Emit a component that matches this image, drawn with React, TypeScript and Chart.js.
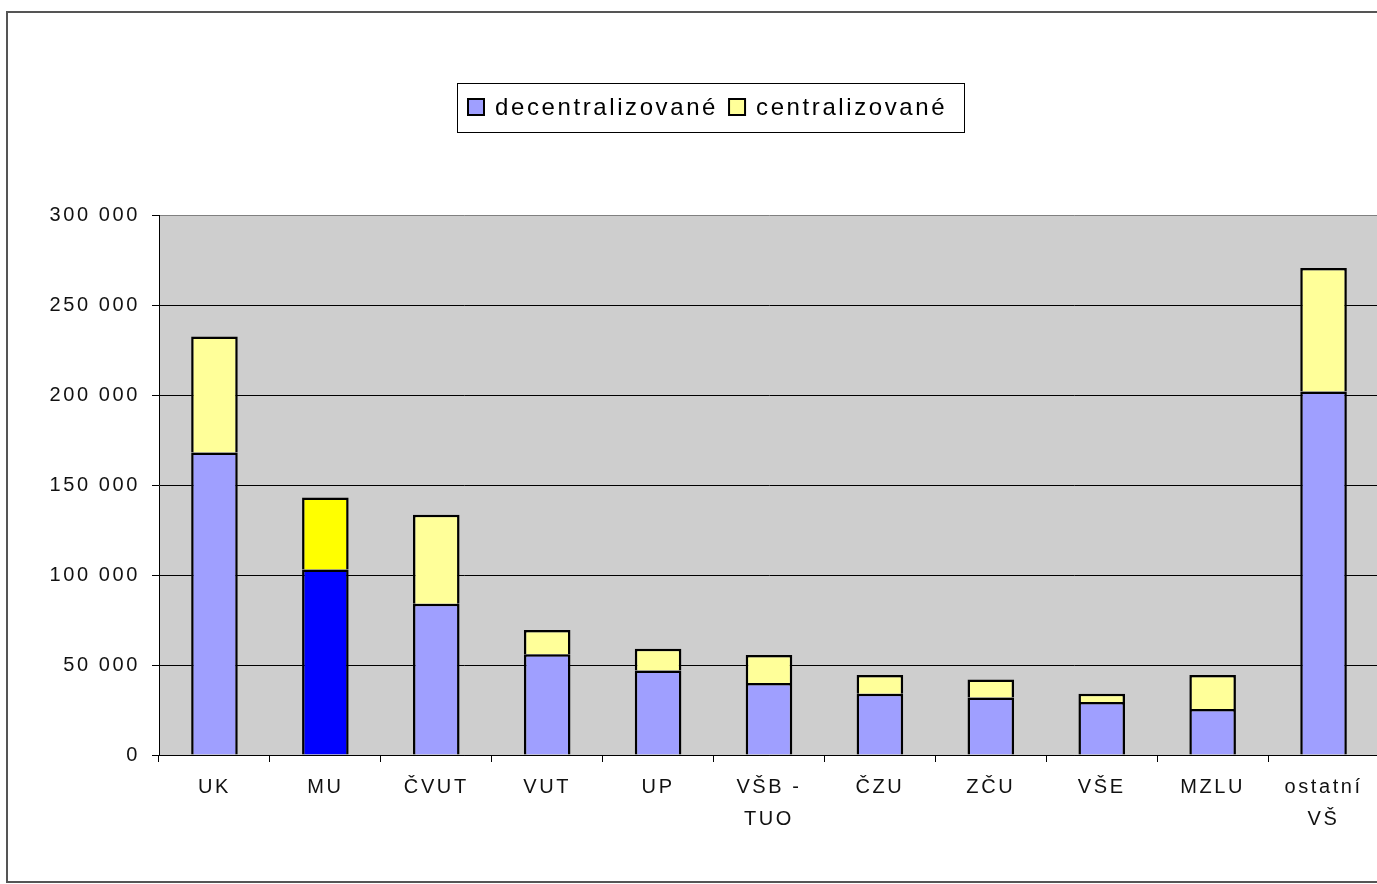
import React, { useEffect, useRef } from "react";
import { Chart, registerables } from "chart.js";

Chart.register(...registerables);

const categories: string[][] = [
  ["UK"], ["MU"], ["ČVUT"], ["VUT"], ["UP"], ["VŠB -", "TUO"],
  ["ČZU"], ["ZČU"], ["VŠE"], ["MZLU"], ["ostatní", "VŠ"],
];
const decentralizovane = [168000, 103000, 84000, 56000, 47000, 40000, 34000, 32000, 29500, 25500, 202000];
const centralizovane = [64500, 40000, 49500, 13500, 12000, 15500, 10500, 10000, 4500, 19000, 68500];
const seriesLabels = ["decentralizované", "centralizované"];
const highlightCategory = "MU";
const yMin = 0;
const yMax = 300000;
const yStep = 50000;

const FONT = "'Liberation Sans', Arial, sans-serif";
const decColor = "#9f9fff";
const centColor = "#ffff99";
const decHighlight = "#0000ff";
const centHighlight = "#ffff00";

const fmt = (v: number) => String(v).replace(/\B(?=(\d{3})+(?!\d))/g, " ");

const framePlugin = {
  id: "frame",
  beforeDraw(chart: any) {
    const { ctx, chartArea } = chart;
    ctx.save();
    ctx.fillStyle = "#ffffff";
    ctx.fillRect(0, 0, chart.width, chart.height);
    ctx.strokeStyle = "#555555";
    ctx.lineWidth = 2;
    ctx.strokeRect(7, 12, chart.width + 20, 870);
    ctx.fillStyle = "#cecece";
    ctx.fillRect(chartArea.left, chartArea.top, chartArea.right - chartArea.left, chartArea.bottom - chartArea.top);
    ctx.restore();
    (ctx as any).letterSpacing = "2.6px";
  },
  afterDraw(chart: any) {
    const ctx = chart.ctx;
    ctx.save();
    (ctx as any).letterSpacing = "2.6px";
    ctx.strokeStyle = "#000";
    ctx.lineWidth = 1;
    ctx.strokeRect(457.5, 83.5, 507, 49);
    ctx.font = `24px ${FONT}`;
    ctx.textBaseline = "alphabetic";
    ctx.textAlign = "left";
    const colors = [decColor, centColor];
    let x = 468;
    chart.data.datasets.forEach((ds: any, i: number) => {
      ctx.fillStyle = colors[i];
      ctx.fillRect(x, 99, 16, 16);
      ctx.lineWidth = 2;
      ctx.strokeStyle = "#000";
      ctx.strokeRect(x, 99, 16, 16);
      ctx.fillStyle = "#000";
      ctx.fillText(ds.label, x + 27, 114.5);
      x = x + 27 + ctx.measureText(ds.label).width + 11;
    });
    ctx.restore();
    (ctx as any).letterSpacing = "0px";
  },
};

export default function App() {
  const ref = useRef<HTMLCanvasElement>(null);
  useEffect(() => {
    if (!ref.current) return;
    const hiIdx = categories.findIndex((c) => c.join(" ") === highlightCategory);
    const chart = new Chart(ref.current, {
      type: "bar",
      data: {
        labels: categories,
        datasets: [
          {
            label: seriesLabels[0],
            data: decentralizovane,
            backgroundColor: (c: any) => (c.dataIndex === hiIdx ? decHighlight : decColor),
            borderColor: "#000",
            borderWidth: 2.5,
          },
          {
            label: seriesLabels[1],
            data: centralizovane,
            backgroundColor: (c: any) => (c.dataIndex === hiIdx ? centHighlight : centColor),
            borderColor: "#000",
            borderWidth: 2.5,
          },
        ],
      },
      options: {
        animation: false,
        responsive: false,
        layout: { padding: { top: 215, right: 21, left: 0, bottom: 0 } },
        datasets: { bar: { barPercentage: 0.42, categoryPercentage: 1 } },
        plugins: { legend: { display: false }, tooltip: { enabled: false }, title: { display: false } },
        scales: {
          x: {
            stacked: true,
            afterFit: (s: any) => { s.height = 129; },
            grid: { display: true, drawOnChartArea: false, drawTicks: true, tickLength: 7, color: "#000", offset: true },
            border: { display: true, color: "#000", width: 1 },
            ticks: {
              color: "#111",
              padding: 9,
              maxRotation: 0,
              autoSkip: false,
              font: { family: FONT, size: 20, lineHeight: 1.6 },
            },
          },
          y: {
            stacked: true,
            min: yMin,
            max: yMax,
            afterFit: (s: any) => { s.width = 159; },
            grid: {
              color: (c: any) => (c.tick && c.tick.value === yMax ? "#808080" : "#000"),
              tickColor: "#000",
              lineWidth: 1,
              drawTicks: true,
              tickLength: 7,
            },
            border: { display: true, color: "#000", width: 1 },
            ticks: {
              stepSize: yStep,
              color: "#111",
              padding: 12,
              font: { family: FONT, size: 20 },
              callback: (v: any) => fmt(Number(v)),
            },
          },
        },
      },
      plugins: [framePlugin],
    } as any);
    return () => chart.destroy();
  }, []);
  return (
    <div style={{ position: "fixed", left: 0, top: 0, width: 1377, height: 884, overflow: "hidden", background: "#fff" }}>
      <canvas ref={ref} width={1400} height={884} style={{ width: 1400, height: 884, display: "block" }} />
    </div>
  );
}
